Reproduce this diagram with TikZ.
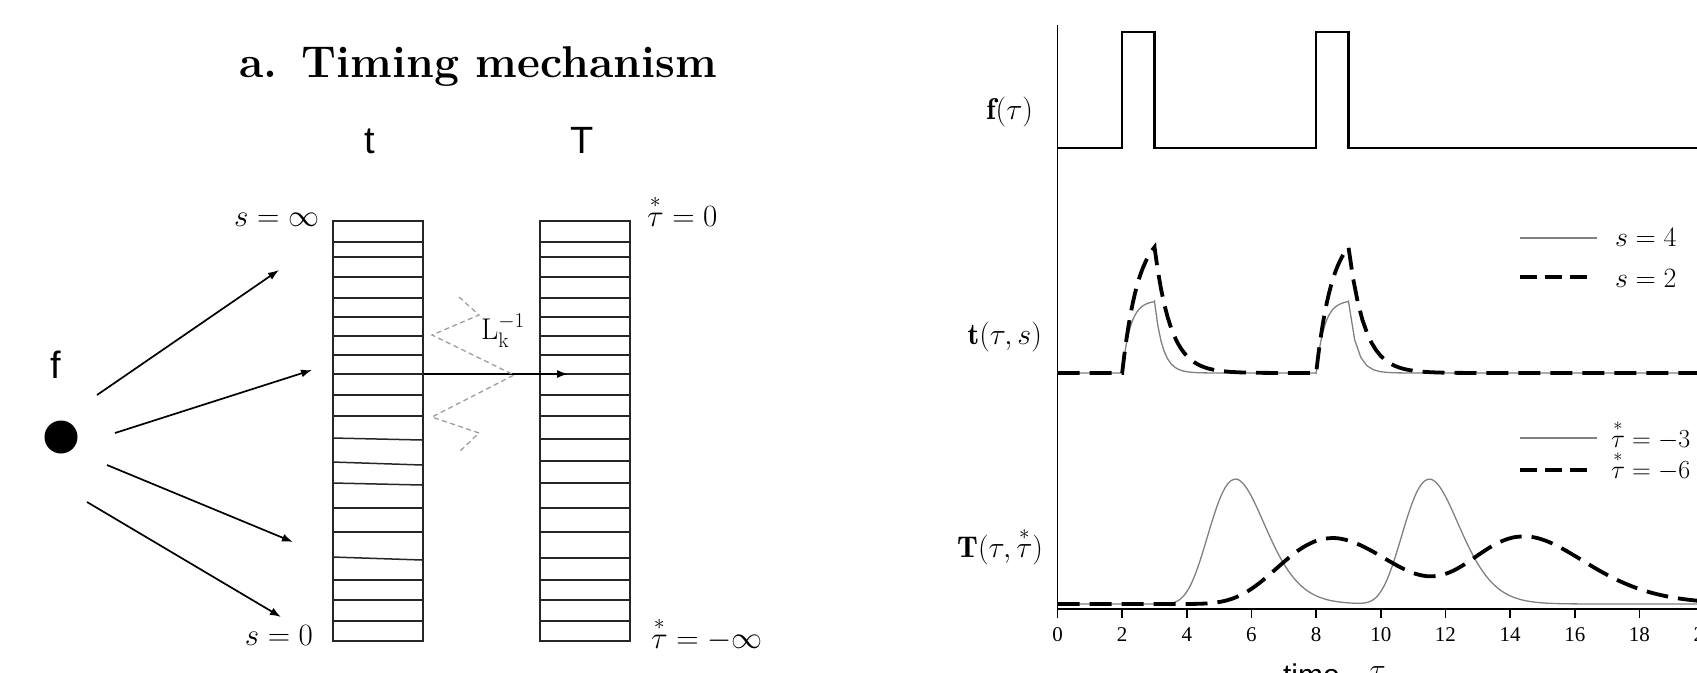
\RequirePackage{fix-cm}
\documentclass[tikz,border=0pt]{standalone}
\usepackage{amsmath}
\usepackage{fontspec}
\newfontfamily\lsans{Liberation Sans}
\newfontfamily\lserif{Liberation Serif}
\usetikzlibrary{arrows.meta}
\begin{document}
\begin{tikzpicture}[x=1pt,y=-1pt,
 lbl/.style={inner sep=0pt,outer sep=0pt},
 sansl/.style={lbl,font=\lsans\fontsize{38}{44}\selectfont},
 mathl/.style={lbl,font=\fontsize{31}{37}\selectfont},
 legl/.style={lbl,font=\fontsize{28}{33}\selectfont},
 legt/.style={lbl,font=\fontsize{26}{31}\selectfont},
 boxs/.style={draw=black!85,line width=1.6pt,minimum width=90pt,minimum height=420pt,inner sep=0pt,anchor=north west},
 rung/.style={draw=black!85,line width=1.5pt},
 arr/.style={line width=1.7pt,-{Latex[length=11pt,width=8pt]}},
 zig/.style={draw=black!38,line width=1.3pt,dash pattern=on 5pt off 3.5pt},
 fline/.style={line width=2.6pt,line join=miter},
 solidg/.style={draw=black!50,line width=1.3pt},
 dashk/.style={line width=3.8pt,dash pattern=on 22pt off 10pt},
 legdash/.style={line width=3.8pt,dash pattern=on 17pt off 8pt},
 axisl/.style={line width=1.6pt},
 declare function={gk(\u,\c)=exp(max(-9,12*(ln(max(\u,0.01)/\c)-\u/\c+1)));}
]
\useasboundingbox (0,0) rectangle (1697,672);
\clip (0,0) rectangle (1697,672);

% ---------------- left panel ----------------
\node[lbl,anchor=base,font=\bfseries\fontsize{44.5}{52}\selectfont] (title) at (478,77) {a.\hspace{0.55em}Timing mechanism};
\node[sansl,anchor=base] (tlab) at (370,153) {t};
\node[sansl,anchor=base] (Tlab) at (582,153) {T};

\node[boxs] (tbox) at (332,220) {};
\node[boxs] (Tbox) at (539,220) {};
\foreach \yy/\dd in {242/0,257/0,277/0,298/0,317/0,336/0,355/0,374/0,395/0,416/0,438/2,462/3,483/2,508/0,532/0,557/3,580/0,600/0,621/0}{
  \draw[rung] (tbox.north west) ++(0,{\yy-220}) -- ++(90,\dd);
}
\foreach \yy in {242,257,277,298,317,336,355,374,395,416,439,461,483,508,532,558,580,600,621}{
  \draw[rung] (Tbox.north west) ++(0,{\yy-220}) -- ++(90,0);
}

\path (tbox.north east) ++(0,154) coordinate (ain);
\coordinate (aout) at (568,374);
\draw[arr,line width=1.5pt] (ain) -- (aout);

\coordinate (z1) at (459,297);
\coordinate (z2) at (479,315);
\coordinate (z3) at (432,335);
\coordinate (z4) at (514,375);
\coordinate (z5) at (432,417);
\coordinate (z6) at (479,433);
\coordinate (z7) at (459,452);
\draw[zig] (z1) -- (z2) -- (z3) -- (z4) -- (z5) -- (z6) -- (z7);
\node[lbl,font=\fontsize{30}{36}\selectfont] (Lk) at (503,331) {$\mathrm{L}^{-1}_{\mathrm{k}}$};

\node[circle,fill=black,minimum size=33pt,inner sep=0pt] (dot) at (61,437) {};
\node[sansl,anchor=base] (flab) at (56,378) {f};
\coordinate (s1) at (97,395);  \coordinate (e1) at (279,270);
\coordinate (s2) at (115,433); \coordinate (e2) at (312,370);
\coordinate (s3) at (107,465); \coordinate (e3) at (293,542);
\coordinate (s4) at (87,502);  \coordinate (e4) at (281,617);
\foreach \i in {1,2,3,4}{\draw[arr] (s\i) -- (e\i);}

\node[mathl,anchor=base east] (sinf) at (319,226) {$s=\infty$};
\node[mathl,anchor=base west] (tzero) at (647,226) {$\overset{*}{\tau}=0$};
\node[mathl,anchor=base east] (szero) at (313,645) {$s=0$};
\node[mathl,anchor=base west] (tminf) at (651,648) {$\overset{*}{\tau}=-\infty$};

% ---------------- right panel ----------------
\node[lbl,font=\fontsize{30}{36}\selectfont,anchor=base east] (flabel) at (1033,119) {$\mathbf{f}(\tau)$};
\node[lbl,font=\fontsize{30}{36}\selectfont,anchor=base east] (tlabel) at (1042,344) {$\mathbf{t}(\tau,s)$};
\node[lbl,font=\fontsize{30}{36}\selectfont,anchor=base east] (Tlabel) at (1043,557) {$\mathbf{T}(\tau,\overset{*}{\tau})$};

\begin{scope}[shift={(1057.5,0)},x=32.33pt]
  \draw[axisl] (0,25) -- (0,609);
  \draw[line width=2.6pt] (0,609) -- (20.5,609);
  \foreach \k in {0,2,...,20}{
    \draw[line width=1.5pt] (\k,609) -- (\k,618);
    \node[lbl,font=\lserif\fontsize{21}{25}\selectfont] (tick\k) at (\k,635) {\k};
  }
  % f(tau)
  \draw[fline] (0,148) -- (2,148) -- (2,32) -- (3,32) -- (3,148) -- (8,148) -- (8,32) -- (9,32) -- (9,148) -- (20.5,148);
  % t(tau,s), s=4
  \draw[solidg] (0,373) -- (2,373)
    -- plot[domain=2:3,samples=16] (\x,{373-72.75*(1-exp(-4*(\x-2)))})
    -- plot[domain=3:8,samples=50] (\x,{373-71.42*exp(max(-9,-4*(\x-3)))})
    -- plot[domain=8:9,samples=16] (\x,{373-72.75*(1-exp(-4*(\x-8)))})
    -- plot[domain=9:20.3,samples=60] (\x,{373-71.42*exp(max(-9,-4*(\x-9)))});
  % s=2
  \draw[dashk] (0,373) -- (2,373)
    -- plot[domain=2:3,samples=16] (\x,{373-145.5*(1-exp(-2*(\x-2)))})
    -- plot[domain=3:8,samples=50] (\x,{373-125.8*exp(max(-9,-2*(\x-3)))})
    -- plot[domain=8:9,samples=16] (\x,{373-145.5*(1-exp(-2*(\x-8)))})
    -- plot[domain=9:20.3,samples=80] (\x,{373-125.8*exp(max(-9,-2*(\x-9)))});
  % T(tau, tau*)
  \draw[solidg] plot[domain=0:20.3,samples=240] (\x,{604-125*(gk(\x-2.5,3)+gk(\x-8.5,3))});
  \draw[dashk] plot[domain=0:20.3,samples=200] (\x,{604-66*(gk(\x-2.5,6)+gk(\x-8.5,6))});
\end{scope}

\node[lbl,anchor=north west,font=\lsans\fontsize{30}{36}\selectfont] (xlab) at (1283,664) {time\hspace{30pt}\raisebox{6pt}{$\tau$}};

% legends
\coordinate (la1) at (1520,238); \coordinate (lb1) at (1597,238);
\draw[solidg] (la1) -- (lb1);
\node[legl,anchor=base west] (leg1) at (1615,246) {$s=4$};
\coordinate (la2) at (1520,277); \coordinate (lb2) at (1587,277);
\draw[legdash] (la2) -- (lb2);
\node[legl,anchor=base west] (leg2) at (1615,287) {$s=2$};
\coordinate (la3) at (1520,438); \coordinate (lb3) at (1597,438);
\draw[solidg] (la3) -- (lb3);
\node[legt,anchor=base west] (leg3) at (1611,447) {$\overset{*}{\tau}=-3$};
\coordinate (la4) at (1520,470); \coordinate (lb4) at (1587,470);
\draw[legdash] (la4) -- (lb4);
\node[legt,anchor=base west] (leg4) at (1611,478) {$\overset{*}{\tau}=-6$};
\end{tikzpicture}
\end{document}
